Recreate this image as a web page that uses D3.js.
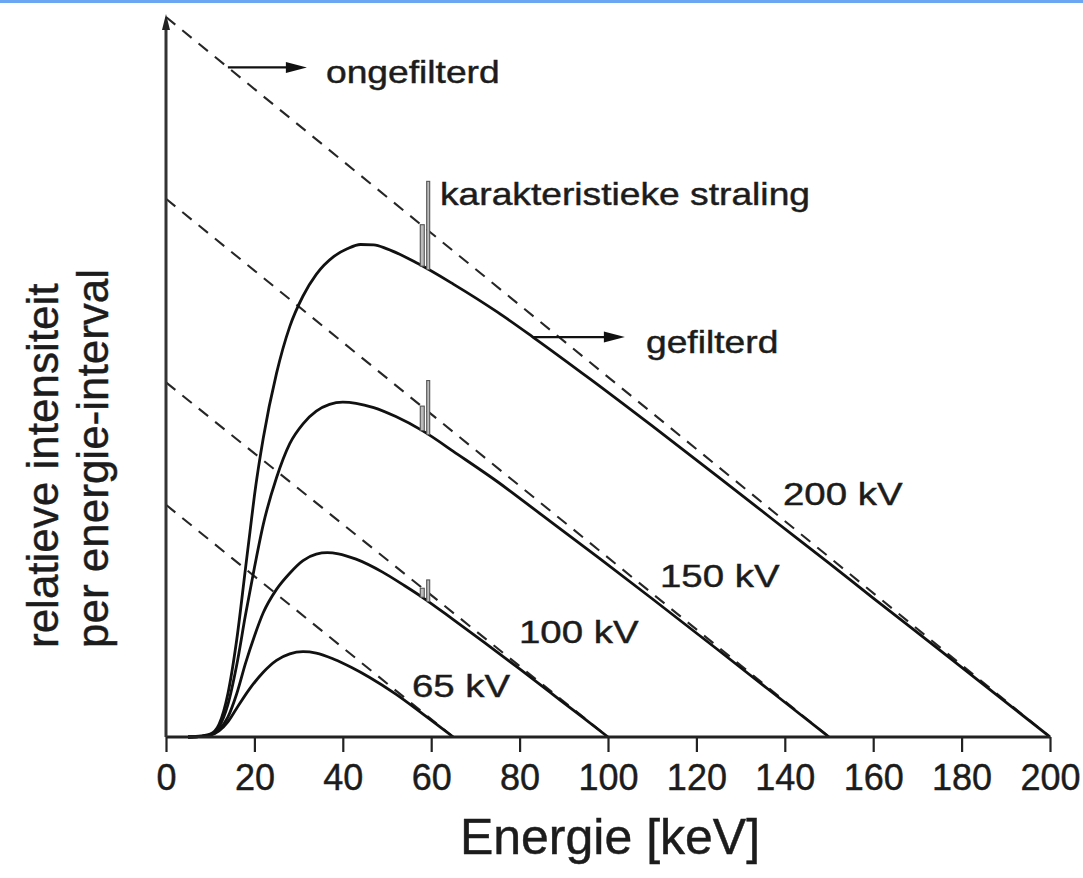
<!DOCTYPE html>
<html>
<head>
<meta charset="utf-8">
<script src="https://cdn.jsdelivr.net/npm/d3@7"></script>
<style>
  body { margin: 0; background: #fff; }
  svg { display: block; }
  text { font-family: "Liberation Sans", Arial, Helvetica, sans-serif; fill: #1c1c1c; stroke: #1c1c1c; stroke-width: 0.45px; }
</style>
</head>
<body>
<svg id="chart" width="1083" height="878"></svg>
<script>
// Energy axis ticks [keV]
const xTicks = [0, 20, 40, 60, 80, 100, 120, 140, 160, 180, 200];

// Tube voltages [kV] and their labels
const tubeVoltages = [200, 150, 100, 65];
const voltageLabels = ["200 kV", "150 kV", "100 kV", "65 kV"];

// Unfiltered (dashed) spectra: intensity at E = 0, falling to zero at E = kVp
const unfilteredStart = [200, 149.5, 98.5, 64.5];

// Filtered spectra as [energy keV, relative intensity]
const filtered200 = [[5,0],[8,0.3],[10,0.8],[12,3.5],[14,12],[16,27],[18,47],[19,57],[20,67],[22,83],[25,101],[28,114],[31,122.5],[34,128.5],[38,133.5],[41,135.6],[44,136.8],[47,136.7],[50,135.6],[57,131.5],[65,125.8],[75,118],[83,111.1],[96,99.4],[110,86.4],[125,72.2],[137,60.7],[150,48.3],[160,38.6],[175,24.2],[190,9.7],[200,0]];
const filtered150 = [[5,0],[8,0.2],[10,0.6],[12,2.8],[14,9],[16,20],[18,34],[20,47],[22,59],[25,72],[28,81.5],[31,87],[34,90.5],[37,92.4],[40,93],[43,92.7],[47,91.5],[52,89],[58,85.1],[66,78.5],[75,70.9],[85,61.7],[98,49.7],[110,38.4],[125,24.1],[140,9.65],[150,0]];
const filtered100 = [[5,0],[8,0.2],[10,0.5],[12,2],[14,5.5],[16,12],[18,20.5],[20,28],[22,34.5],[25,41],[28,45.5],[31,49],[34,50.8],[36.5,51.2],[39,50.9],[43,49.4],[49,45.8],[54,42],[58,38.8],[65,32.6],[72,26.3],[80,18.9],[87,12.3],[94,5.7],[100,0]];
const filtered65 = [[5,0],[8,0.2],[10,0.5],[12,1.7],[14,4.2],[16,8],[19,13.5],[22,18],[25,21.3],[28,23.1],[31,23.7],[34,23.3],[38,21.6],[42,19.3],[46,16.6],[52,11.9],[58,6.5],[65,0]];
const filteredSpectra = [filtered200, filtered150, filtered100, filtered65];

// Tungsten K-alpha lines (K-alpha2, K-alpha1) on top of the filtered spectra
const charEnergies = [57.98, 59.32];
const charTubes = [200, 150, 100];
const charKa2 = [11.5, 6.8, 2.5];
const charKa1 = [24.5, 15, 6];

// ---------------------------------------------------------------
const svg = d3.select("#chart");
const W = 1083, H = 878;

svg.append("rect").attr("width", W).attr("height", H).attr("fill", "#fff");
svg.append("rect").attr("width", W).attr("height", 3).attr("fill", "#6aa6f2");

const x = d3.scaleLinear().domain([0, 200]).range([166, 1050]);
const y = d3.scaleLinear().domain([0, 200]).range([737, 17]);

// horizontally stretched text
function label(txt, px, py, size, sx, anchor) {
  const g = svg.append("g").attr("transform", `translate(${px},${py}) scale(${sx},1)`);
  return g.append("text").attr("font-size", size).attr("text-anchor", anchor || "start").text(txt);
}

// Unfiltered spectra (dashed)
const line = d3.line().x(d => x(d[0])).y(d => y(d[1]));
tubeVoltages.forEach((kv, i) => {
  svg.append("path")
    .attr("d", line([[0, unfilteredStart[i]], [kv, 0]]))
    .attr("fill", "none")
    .attr("stroke", "#262626")
    .attr("stroke-width", 2.1)
    .attr("stroke-dasharray", "12,9");
});

// Filtered spectra (solid)
const curve = d3.line().x(d => x(d[0])).y(d => y(d[1])).curve(d3.curveMonotoneX);
filteredSpectra.forEach(s => {
  svg.append("path")
    .attr("d", curve(s))
    .attr("fill", "none")
    .attr("stroke", "#111")
    .attr("stroke-width", 2.8)
    .attr("stroke-linejoin", "round");
});

// intensity of a filtered spectrum at a given energy
function valueAt(series, e) {
  for (let k = 1; k < series.length; k++) {
    if (series[k][0] >= e) {
      const [e0, v0] = series[k - 1], [e1, v1] = series[k];
      return v0 + (v1 - v0) * (e - e0) / (e1 - e0);
    }
  }
  return 0;
}

// Characteristic lines
charTubes.forEach((kv, i) => {
  const s = filteredSpectra[tubeVoltages.indexOf(kv)];
  [charKa2[i], charKa1[i]].forEach((h, j) => {
    const e = charEnergies[j];
    const base = valueAt(s, e);
    const w = j === 0 ? 4 : 3;
    svg.append("rect")
      .attr("x", x(e) - w / 2)
      .attr("y", y(base + h))
      .attr("width", w)
      .attr("height", y(base) - y(base + h))
      .attr("fill", "#bbb")
      .attr("stroke", "#555")
      .attr("stroke-width", 1.1);
  });
});

// Axes
const axisColor = "#222";
svg.append("line")
  .attr("x1", x(0)).attr("x2", x(200)).attr("y1", y(0)).attr("y2", y(0))
  .attr("stroke", axisColor).attr("stroke-width", 2.8);
svg.append("line")
  .attr("x1", x(0)).attr("x2", x(0)).attr("y1", y(0)).attr("y2", 26)
  .attr("stroke", "#333").attr("stroke-width", 3);
svg.append("path")
  .attr("d", `M${x(0)},14 L${x(0) - 4},30 L${x(0) + 4},30 Z`)
  .attr("fill", "#222");

const xAxis = d3.axisBottom(x).tickValues(xTicks).tickSize(15).tickPadding(12).tickFormat(d3.format("d"));
const gx = svg.append("g").attr("transform", `translate(0,${y(0)})`).call(xAxis);
gx.select(".domain").remove();
gx.selectAll(".tick line").attr("stroke", axisColor).attr("stroke-width", 2.2);
gx.selectAll(".tick text")
  .attr("font-size", 36)
  .attr("font-family", "'Liberation Sans', Arial, sans-serif")
  .attr("fill", "#1c1c1c");

// Axis titles
svg.append("text")
  .attr("x", 610).attr("y", 854)
  .attr("text-anchor", "middle")
  .attr("font-size", 50)
  .text("Energie [keV]");

svg.append("text")
  .attr("transform", "translate(58,648) rotate(-90)")
  .attr("font-size", 44)
  .text("relatieve intensiteit");
svg.append("text")
  .attr("transform", "translate(108,648) rotate(-90)")
  .attr("font-size", 44)
  .text("per energie-interval");

// Arrows and annotations
function arrow(x0, y0, x1) {
  svg.append("line")
    .attr("x1", x0).attr("x2", x1 - 12).attr("y1", y0).attr("y2", y0)
    .attr("stroke", "#111").attr("stroke-width", 2.2);
  svg.append("path")
    .attr("d", `M${x1},${y0} L${x1 - 21},${y0 - 5.5} L${x1 - 21},${y0 + 5.5} Z`)
    .attr("fill", "#111");
}

const eUnf = 14;
arrow(x(eUnf), y(unfilteredStart[0] - eUnf), x(eUnf) + 79);
label("ongefilterd", 326, 83, 31, 1.2);

const eFil = 83;
arrow(x(eFil), y(valueAt(filtered200, eFil)), x(eFil) + 92);
label("gefilterd", 646, 353, 31, 1.2);

label("karakteristieke straling", 440, 205, 31, 1.2);

const labelAt = [[783, 505], [660, 587], [519, 643], [412, 697]];
voltageLabels.forEach((t, i) => label(t, labelAt[i][0], labelAt[i][1], 32, 1.2));
</script>
</body>
</html>
